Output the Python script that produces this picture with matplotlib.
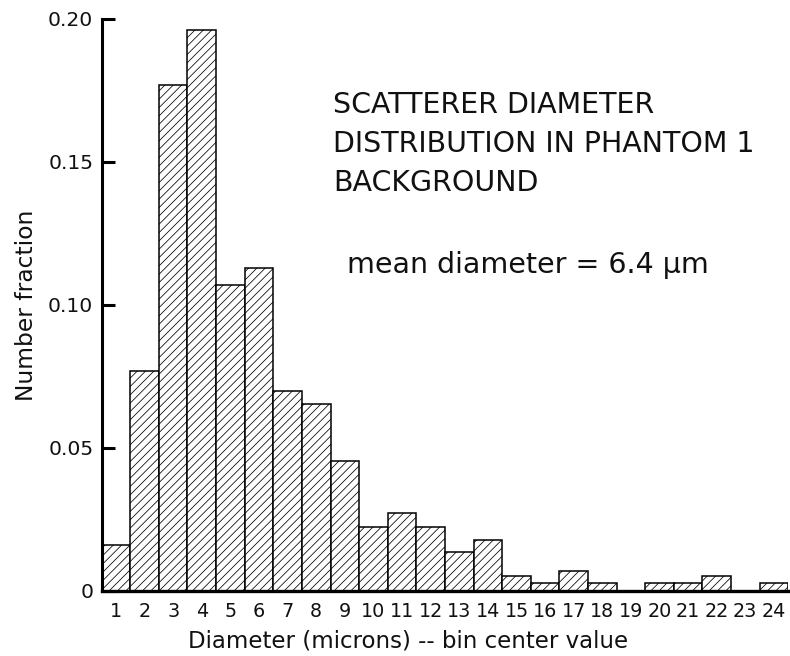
import matplotlib
matplotlib.use("Agg")
import matplotlib.pyplot as plt

diameters = list(range(1, 25))
fractions = [0.016, 0.077, 0.177, 0.196, 0.107, 0.113, 0.070, 0.0655, 0.0456,
             0.0224, 0.0272, 0.0222, 0.0137, 0.0177, 0.0054, 0.0029, 0.0070,
             0.0029, 0.0, 0.0029, 0.0029, 0.0054, 0.0, 0.0029]
yticks = [0, 0.05, 0.10, 0.15, 0.20]
ytick_labels = ["0", "0.05", "0.10", "0.15", "0.20"]

plt.rcParams['font.family'] = ['DejaVu Sans']
plt.rcParams['hatch.linewidth'] = 0.55
plt.rcParams['hatch.color'] = '#555555'

fig = plt.figure(figsize=(7.9, 6.56), dpi=100)
ax = fig.add_axes([0.1287, 0.0991, 0.869, 0.872])

ax.bar(diameters, fractions, width=1.0, facecolor='white', edgecolor='black',
       linewidth=1.1, hatch='////', zorder=2)

ax.set_xlim(0.5, 24.5)
ax.set_ylim(0, 0.20)
ax.spines['top'].set_visible(False)
ax.spines['right'].set_visible(False)
ax.spines['left'].set_linewidth(2.2)
ax.spines['bottom'].set_linewidth(2.4)
ax.spines['bottom'].set_zorder(3)

ax.set_yticks(yticks)
ax.set_yticklabels(ytick_labels, fontsize=14.6, color='#111111')
ax.tick_params(axis='y', direction='in', length=9, width=2.2, pad=6)
ax.set_xticks(diameters)
ax.set_xticklabels([str(d) for d in diameters], fontsize=13.8, color='#111111')
ax.tick_params(axis='x', length=0, pad=8)

ax.set_xlabel("Diameter (microns) -- bin center value", fontsize=16.5,
              color='#111111')
ax.xaxis.set_label_coords(0.4465, -0.068)
ax.set_ylabel("Number fraction", fontsize=16.8, labelpad=7, color='#111111')

fig.text(333 / 790, 1 - 91 / 656, "SCATTERER DIAMETER\nDISTRIBUTION IN PHANTOM 1\nBACKGROUND",
         fontsize=20.5, va='top', ha='left', linespacing=1.49, color='#111111')
fig.text(347 / 790, 1 - 273 / 656, "mean diameter = 6.4 μm",
         fontsize=20.5, va='baseline', ha='left', color='#111111')

fig.savefig("out.png", dpi=100)
